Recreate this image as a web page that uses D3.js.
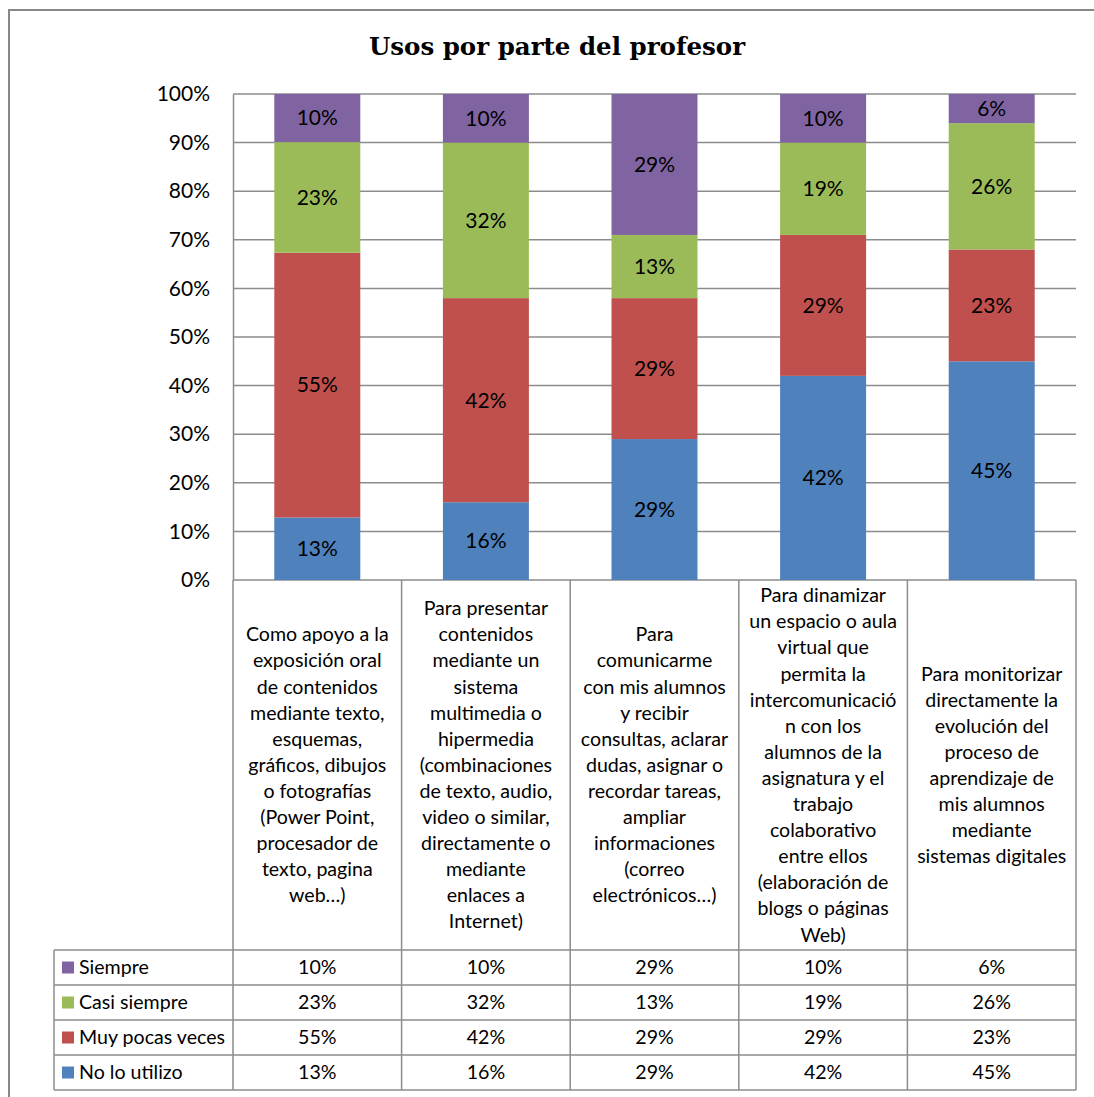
<!DOCTYPE html>
<html>
<head>
<meta charset="utf-8">
<script src="https://cdn.jsdelivr.net/npm/d3@7"></script>
<style>
  html, body { margin: 0; padding: 0; background: #fff; }
  svg { display: block; }
</style>
</head>
<body>
<svg id="chart" width="1094" height="1097"></svg>
<script>
// Categories (wrapped as shown in the table header)
const categories = [
  ["Como apoyo a la", "exposición oral", "de contenidos", "mediante texto,", "esquemas,", "gráficos, dibujos", "o fotografías", "(Power Point,", "procesador de", "texto, pagina", "web…)"],
  ["Para presentar", "contenidos", "mediante un", "sistema", "multimedia o", "hipermedia", "(combinaciones", "de texto, audio,", "video o similar,", "directamente o", "mediante", "enlaces a", "Internet)"],
  ["Para", "comunicarme", "con mis alumnos", "y recibir", "consultas, aclarar", "dudas, asignar o", "recordar tareas,", "ampliar", "informaciones", "(correo", "electrónicos…)"],
  ["Para dinamizar", "un espacio o aula", "virtual que", "permita la", "intercomunicació", "n con los", "alumnos de la", "asignatura y el", "trabajo", "colaborativo", "entre ellos", "(elaboración de", "blogs o páginas", "Web)"],
  ["Para monitorizar", "directamente la", "evolución del", "proceso de", "aprendizaje de", "mis alumnos", "mediante", "sistemas digitales"]
];

// Series, bottom to top of each stack
const seriesNames = ["No lo utilizo", "Muy pocas veces", "Casi siempre", "Siempre"];
const noLoUtilizo   = [13, 16, 29, 42, 45];
const muyPocasVeces = [55, 42, 29, 29, 23];
const casiSiempre   = [23, 32, 13, 19, 26];
const siempre       = [10, 10, 29, 10, 6];
const seriesColors  = ["#4F81BD", "#C0504D", "#9BBB59", "#8064A2"];

const yTicks = [0, 10, 20, 30, 40, 50, 60, 70, 80, 90, 100];
const title = "Usos por parte del profesor";

const seriesValues = [noLoUtilizo, muyPocasVeces, casiSiempre, siempre];

const svg = d3.select("#chart");
const font = "Lato, 'Liberation Sans', sans-serif";
const gridColor = "#8c8c8c";
const tableFont = 19.6;
const labelFont = 21;

// Layout
const plot = { left: 233, right: 1076, top: 94, bottom: 580 };
const headerBottom = 950;
const rowH = 35;
const legendLeft = 54;

// Chart frame
svg.append("rect")
  .attr("x", 9).attr("y", 10).attr("width", 1100).attr("height", 1100)
  .attr("fill", "#fff").attr("stroke", "#878787").attr("stroke-width", 2);

// Title
svg.append("text")
  .attr("x", 557).attr("y", 55)
  .attr("text-anchor", "middle")
  .attr("font-family", "'DejaVu Serif', 'Liberation Serif', serif")
  .attr("font-weight", "bold")
  .attr("font-size", 24.5)
  .attr("fill", "#000")
  .text(title);

const idx = d3.range(categories.length);
const x = d3.scaleBand().domain(idx).range([plot.left, plot.right]).paddingInner(0.49).paddingOuter(0.245);
const xCol = d3.scaleBand().domain(idx).range([plot.left, plot.right]);
const y = d3.scaleLinear().domain([0, 100]).range([plot.bottom, plot.top]);

// Gridlines
svg.append("g")
  .selectAll("line").data(yTicks).join("line")
  .attr("x1", plot.left).attr("x2", plot.right)
  .attr("y1", d => y(d)).attr("y2", d => y(d))
  .attr("stroke", gridColor).attr("stroke-width", 1.5);

// Y axis
const yAxis = d3.axisLeft(y).tickValues(yTicks).tickFormat(d => d + "%").tickSize(0).tickPadding(23);
const yg = svg.append("g").attr("transform", `translate(${plot.left},0)`).call(yAxis);
yg.select(".domain").attr("stroke", gridColor).attr("stroke-width", 1.5);
yg.selectAll("text").attr("font-family", font).attr("font-size", labelFont).attr("fill", "#000");

// Stacked, normalised to 100% per column
const table = idx.map(i => {
  const row = { i };
  seriesNames.forEach((s, k) => row[s] = seriesValues[k][i]);
  return row;
});
const stack = d3.stack().keys(seriesNames).offset(d3.stackOffsetExpand);
const layers = stack(table);

const gBars = svg.append("g");
layers.forEach((layer, k) => {
  gBars.append("g").attr("fill", seriesColors[k])
    .selectAll("rect").data(layer).join("rect")
    .attr("x", d => x(d.data.i))
    .attr("width", x.bandwidth())
    .attr("y", d => y(d[1] * 100))
    .attr("height", d => y(d[0] * 100) - y(d[1] * 100));
  gBars.append("g")
    .selectAll("text").data(layer).join("text")
    .attr("x", d => x(d.data.i) + x.bandwidth() / 2)
    .attr("y", d => y((d[0] + d[1]) * 50))
    .attr("dy", "0.35em")
    .attr("text-anchor", "middle")
    .attr("font-family", font).attr("font-size", labelFont).attr("fill", "#000")
    .text(d => d.data[seriesNames[k]] + "%");
});

// Data table
const tg = svg.append("g");
const lineStyle = sel => sel.attr("stroke", gridColor).attr("stroke-width", 1.5);

// Header cells (category labels)
const colEdges = idx.map(i => xCol(i)).concat([plot.right]);
colEdges.forEach(cx => {
  tg.append("line").attr("x1", cx).attr("x2", cx)
    .attr("y1", plot.bottom).attr("y2", headerBottom + rowH * seriesNames.length)
    .call(lineStyle);
});
const lineH = 26.1;
categories.forEach((lines, i) => {
  const cx = xCol(i) + xCol.bandwidth() / 2;
  const cy = (plot.bottom + headerBottom) / 2;
  const t = tg.append("text")
    .attr("text-anchor", "middle")
    .attr("font-family", font).attr("font-size", tableFont).attr("fill", "#000");
  const y0 = cy - (lines.length - 1) * lineH / 2;
  lines.forEach((ln, j) => {
    t.append("tspan").attr("x", cx).attr("y", y0 + j * lineH).attr("dy", "0.35em").text(ln);
  });
});

// Value rows, top row is the top series
const rowOrder = d3.range(seriesNames.length).reverse();
rowOrder.forEach((k, r) => {
  const top = headerBottom + r * rowH;
  tg.append("line").attr("x1", legendLeft).attr("x2", plot.right)
    .attr("y1", top).attr("y2", top).call(lineStyle);
  tg.append("rect").attr("x", 62).attr("y", top + rowH / 2 - 6)
    .attr("width", 12).attr("height", 12).attr("fill", seriesColors[k]);
  tg.append("text").attr("x", 79).attr("y", top + rowH / 2).attr("dy", "0.35em")
    .attr("font-family", font).attr("font-size", tableFont).attr("fill", "#000")
    .text(seriesNames[k]);
  idx.forEach(i => {
    tg.append("text")
      .attr("x", xCol(i) + xCol.bandwidth() / 2).attr("y", top + rowH / 2).attr("dy", "0.35em")
      .attr("text-anchor", "middle")
      .attr("font-family", font).attr("font-size", tableFont).attr("fill", "#000")
      .text(seriesValues[k][i] + "%");
  });
});
const tableBottom = headerBottom + rowH * seriesNames.length;
tg.append("line").attr("x1", legendLeft).attr("x2", plot.right)
  .attr("y1", tableBottom).attr("y2", tableBottom).call(lineStyle);
tg.append("line").attr("x1", legendLeft).attr("x2", legendLeft)
  .attr("y1", headerBottom).attr("y2", tableBottom).call(lineStyle);
</script>
</body>
</html>
